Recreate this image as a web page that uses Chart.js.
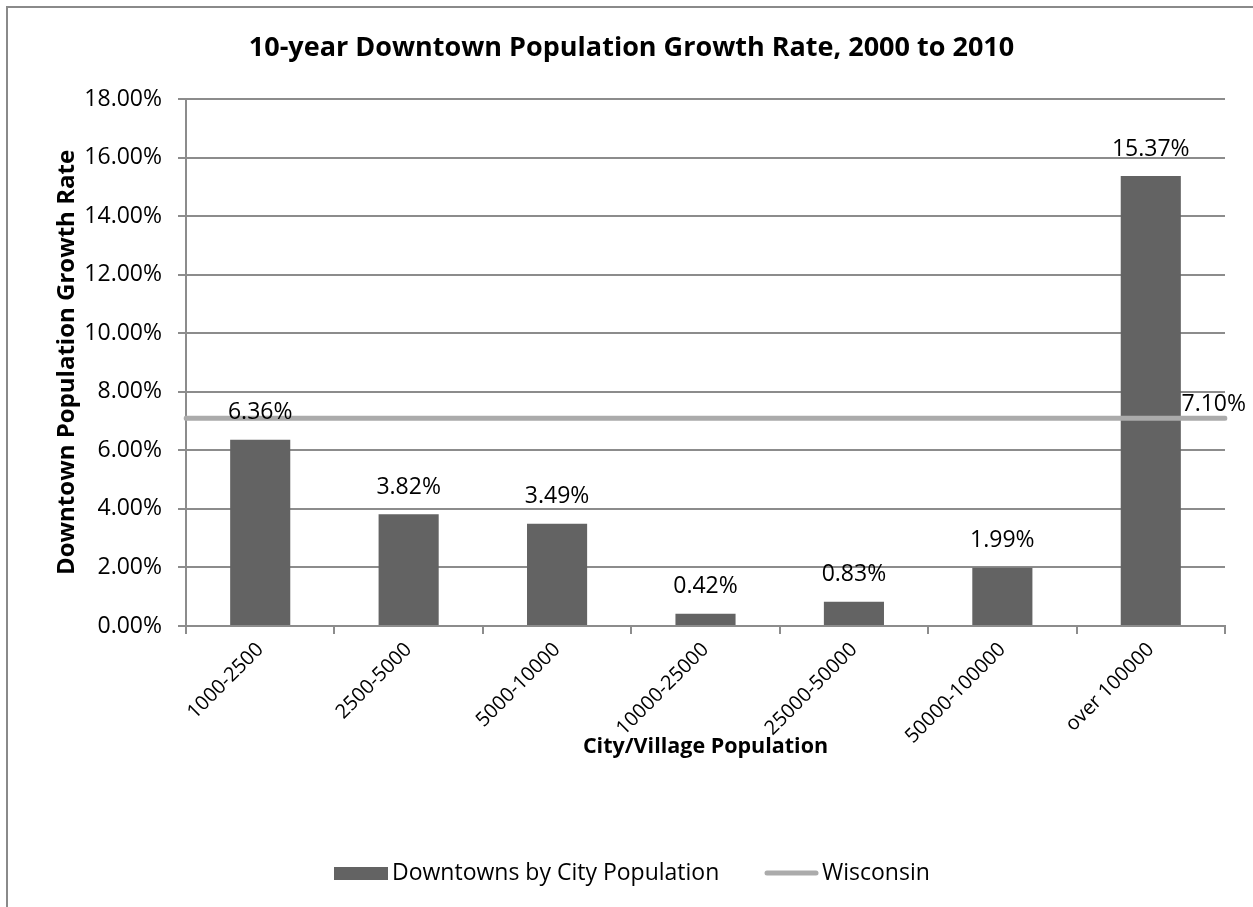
<!DOCTYPE html>
<html>
<head>
<meta charset="utf-8">
<script src="https://cdn.jsdelivr.net/npm/chart.js@4/dist/chart.umd.min.js"></script>
<style>
  html, body { margin: 0; padding: 0; background: #ffffff; }
  #wrap { width: 1253px; height: 907px; }
</style>
</head>
<body>
<div id="wrap"><canvas id="c" width="1253" height="907"></canvas></div>
<script>
// Population size classes and the growth rates of their downtowns
const categories = ['1000-2500', '2500-5000', '5000-10000', '10000-25000', '25000-50000', '50000-100000', 'over 100000'];
const downtownRates = [6.36, 3.82, 3.49, 0.42, 0.83, 1.99, 15.37];
// Statewide growth rate, one value per class
const wisconsinRates = [7.10, 7.10, 7.10, 7.10, 7.10, 7.10, 7.10];
const yTicks = [0, 2, 4, 6, 8, 10, 12, 14, 16, 18];

const FONT = "'Open Sans', 'Liberation Sans', sans-serif";
const BAR_COLOR = '#636363';
const LINE_COLOR = '#ababab';
const GRID_COLOR = '#8c8c8c';

const pct = v => Number(v).toFixed(2) + '%';

// Outer frame of the chart
const framePlugin = {
  id: 'frame',
  beforeDraw(chart) {
    const ctx = chart.ctx;
    ctx.save();
    ctx.fillStyle = '#ffffff';
    ctx.fillRect(0, 0, chart.width, chart.height);
    ctx.strokeStyle = '#8a8a8a';
    ctx.lineWidth = 2;
    ctx.beginPath();
    ctx.moveTo(7, chart.height);
    ctx.lineTo(7, 7);
    ctx.lineTo(chart.width, 7);
    ctx.stroke();
    ctx.restore();
  }
};

// Value labels above bars and at the end of the state line
const valueLabelPlugin = {
  id: 'valueLabels',
  afterDatasetsDraw(chart) {
    const ctx = chart.ctx;
    ctx.save();
    ctx.font = '23px ' + FONT;
    ctx.fillStyle = '#000000';
    ctx.textBaseline = 'middle';
    const barMeta = chart.getDatasetMeta(0);
    ctx.textAlign = 'center';
    barMeta.data.forEach((el, i) => {
      ctx.fillText(pct(downtownRates[i]), el.x, el.y - 27);
    });
    const lineMeta = chart.getDatasetMeta(1);
    const last = lineMeta.data[lineMeta.data.length - 1];
    ctx.textAlign = 'right';
    ctx.fillText(pct(wisconsinRates[wisconsinRates.length - 1]), 1246, last.y - 14);
    ctx.restore();
  }
};

// Legend row below the axis title
const legendPlugin = {
  id: 'customLegend',
  afterDraw(chart) {
    const ctx = chart.ctx;
    const y = 873;
    ctx.save();
    ctx.font = '23px ' + FONT;
    ctx.textAlign = 'left';
    ctx.textBaseline = 'middle';
    ctx.fillStyle = BAR_COLOR;
    ctx.fillRect(334, y - 6, 54, 13);
    ctx.fillStyle = '#000000';
    ctx.fillText(chart.data.datasets[0].label, 392, y);
    ctx.strokeStyle = LINE_COLOR;
    ctx.lineWidth = 5;
    ctx.lineCap = 'round';
    ctx.beginPath();
    ctx.moveTo(767, y);
    ctx.lineTo(816, y);
    ctx.stroke();
    ctx.fillText(chart.data.datasets[1].label, 822, y);
    ctx.restore();
  }
};

new Chart(document.getElementById('c'), {
  type: 'bar',
  data: {
    labels: categories,
    datasets: [
      {
        type: 'bar',
        label: 'Downtowns by City Population',
        data: downtownRates,
        backgroundColor: BAR_COLOR,
        borderWidth: 0,
        grouped: false,
        barPercentage: 0.405,
        categoryPercentage: 1.0,
        xAxisID: 'x',
        order: 1
      },
      {
        type: 'line',
        label: 'Wisconsin',
        data: wisconsinRates,
        borderColor: LINE_COLOR,
        backgroundColor: LINE_COLOR,
        borderWidth: 5,
        borderCapStyle: 'round',
        pointRadius: 0,
        tension: 0,
        xAxisID: 'x2',
        order: 0
      }
    ]
  },
  options: {
    responsive: false,
    animation: false,
    devicePixelRatio: 1,
    layout: { padding: { top: 0, left: 38, right: 28, bottom: 54 } },
    plugins: {
      legend: { display: false },
      tooltip: { enabled: false },
      title: {
        display: true,
        text: '10-year Downtown Population Growth Rate, 2000 to 2010',
        color: '#000000',
        font: { family: FONT, size: 27, weight: 'bold' },
        padding: { top: 31.8, bottom: 34.8 }
      }
    },
    scales: {
      x: {
        type: 'category',
        offset: true,
        afterFit(scale) { scale.height = 227; },
        grid: {
          offset: true,
          drawOnChartArea: false,
          drawTicks: true,
          tickLength: 8,
          color: GRID_COLOR,
          lineWidth: 2
        },
        border: { display: true, color: GRID_COLOR, width: 2 },
        ticks: {
          color: '#000000',
          font: { family: FONT, size: 20 },
          maxRotation: 45,
          minRotation: 45,
          padding: 4,
          autoSkip: false
        },
        title: {
          display: true,
          text: 'City/Village Population',
          color: '#000000',
          font: { family: FONT, size: 21.5, weight: 'bold' },
          padding: { top: 0, bottom: 93 }
        }
      },
      x2: {
        type: 'category',
        labels: categories,
        offset: false,
        display: false,
        grid: { display: false }
      },
      y: {
        min: 0,
        max: 18,
        afterFit(scale) { scale.width = 148; },
        afterBuildTicks(scale) { scale.ticks = yTicks.map(v => ({ value: v })); },
        grid: {
          color: GRID_COLOR,
          lineWidth: 2,
          drawTicks: true,
          tickLength: 8
        },
        border: { display: true, color: GRID_COLOR, width: 2 },
        ticks: {
          color: '#000000',
          font: { family: FONT, size: 23 },
          padding: 16,
          callback: v => pct(v)
        },
        title: {
          display: true,
          text: 'Downtown Population Growth Rate',
          color: '#000000',
          font: { family: FONT, size: 24, weight: 'bold' },
          padding: { top: 14.6, bottom: 0 }
        }
      }
    }
  },
  plugins: [framePlugin, valueLabelPlugin, legendPlugin]
});
</script>
</body>
</html>
